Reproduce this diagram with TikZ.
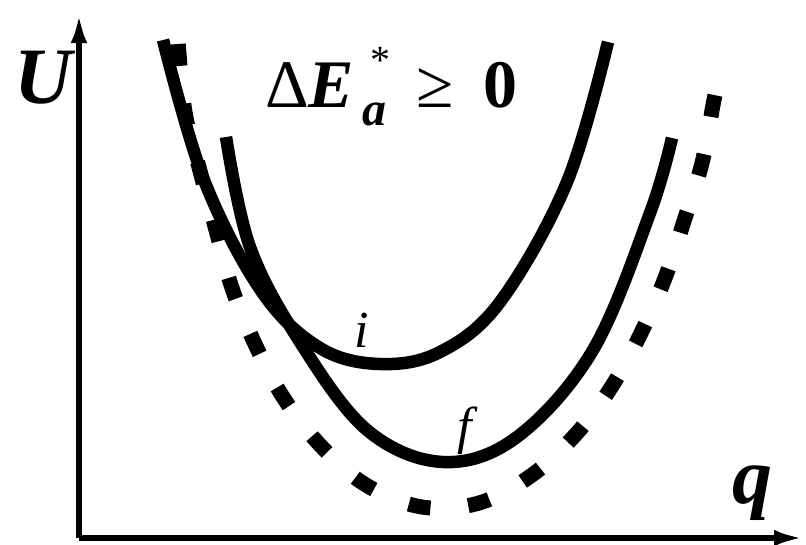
\documentclass[tikz,border=0pt]{standalone}
\usepackage{fontspec}
\setmainfont{Liberation Serif}
\usetikzlibrary{arrows.meta,positioning}

\begin{document}
\begin{tikzpicture}[x=1pt,y=-1pt,>={Latex[length=32pt,width=16pt]},
    axis/.style={line width=6.5pt,->},
    pes/.style={line width=12.5pt},
    pesdash/.style={line width=15pt,dash pattern=on 22pt off 38pt,dash phase=-4pt}]
  \useasboundingbox[fill=white] (0,0) rectangle (806,544);
  % axes
  \coordinate (o) at (79,538);
  \coordinate (utop) at (79,11);
  \coordinate (qend) at (806,538);
  \draw[axis] (o) -- (utop);
  \draw[axis] (o) -- (qend);
  \node[anchor=base,inner sep=0pt,font=\fontsize{80}{90}\selectfont\bfseries\itshape] (ulab) at (43,103) {U};
  \node[anchor=base,inner sep=0pt,font=\fontsize{80}{90}\selectfont\bfseries\itshape] (qlab) at (752,503) {q};
  % initial and final wells, and the dashed one
  \draw[pes] plot[smooth,tension=0.6] coordinates {(163,40) (204,180) (262,292) (320,348) (380,364) (440,352) (500,302) (567,182) (608,42)};
  \draw[pes] plot[smooth,tension=0.6] coordinates {(226,137) (250,247) (300,342) (367,430) (443,462) (517,437) (593,350) (650,213) (672,138)};
  \draw[pesdash] plot[smooth,tension=0.6] coordinates {(178,40) (185,112) (200,171) (216,230) (232,288) (255,344) (283,397) (320,445) (366,485) (422,507) (479,503) (532,475) (577,433) (612,386) (641,333) (665,278) (684,221) (702,163) (713,105) (716,90)};
  \node[anchor=base,inner sep=0pt,font=\fontsize{52}{56}\selectfont\itshape] (ilab) at (362,347) {i};
  \node[anchor=base,inner sep=0pt,font=\fontsize{52}{56}\selectfont\itshape] (flab) at (465,443) {f};
  % barrier condition
  \node[anchor=base west,inner sep=0pt,font=\fontsize{68}{72}\selectfont] (cond) at (265,107)
    {Δ\textbf{\textit{E}}\rlap{\raisebox{34pt}{\fontsize{40}{40}\selectfont\hspace{16pt}*}}\hspace{8pt}\raisebox{-18pt}{\fontsize{48}{48}\selectfont\bfseries\itshape a}\hspace{30pt}≥\hspace{30pt}\textbf{0}};
\end{tikzpicture}
\end{document}
